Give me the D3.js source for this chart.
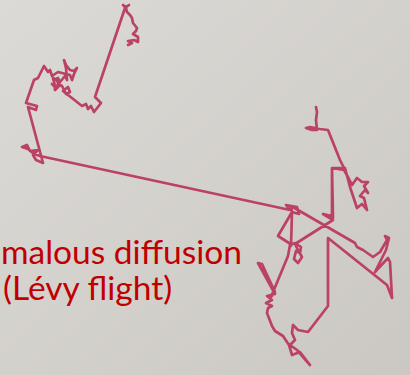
<!DOCTYPE html>
<html>
<head>
<meta charset="utf-8">
<script src="https://cdn.jsdelivr.net/npm/d3@7"></script>
<style>
  body { margin: 0; overflow: hidden; }
</style>
</head>
<body>
<div id="chart"></div>
<script>
// walk positions (x right, y down)
const walkLeftX = [128,132,128,134,138,138,133,136,137,133,132,130,127,126,123,126,129,125,
  95,101,94,91,88,86,82,63,68,70,66,62,58,56,52,55,53,57,59,55,54,58,60,65,67,66,64,66,70,74,77,74,72,70,62,58,52,50,48,44,42,38,34,
  26,37,36,28,43,36,33,38,30,27,22,28,34,40];
const walkLeftY = [45,43,41,40,42,37,34,31,28,23,18,15,12,8,5,7,5,8,
  97,103,112,106,109,104,106,91,87,92,94,86,84,88,84,86,78,80,86,90,80,78,82,76,80,68,60,65,70,71,68,74,80,75,73,72,76,70,72,66,70,78,80,
  103,106,110,107,163,160,155,150,151,145,147,149,154,156];

const walkRightX = [290,286,297,299,292,278,289,291,292,291,
  355,357,363,373,380,387,385,389,386,375,388,390,392,387,
  328,328,308,298,293,292,295,290,297,310,300,292,289,283,275,272,267,
  268,272,266,272,267,275,258,262,275,271,
  288,290,295,301,300,296,294,298,302,298,295,
  333,323,332,332,345,
  350,357,362,367,364,360,365,368,364,368,362,357,352,348,344,
  332,332,323,333,332,344,340,328,320,310,306,312,317,316,317,316];
const walkRightY = [210,205,207,214,212,236,243,246,212,206,
  243,247,250,257,252,240,236,238,250,272,258,262,298,285,
  238,306,332,330,325,333,340,345,350,365,352,355,345,336,331,326,313,
  308,306,303,300,296,294,263,264,292,297,
  256,245,243,247,253,251,259,263,257,250,244,
  220,214,216,168,168,
  187,208,204,210,198,196,190,193,186,182,182,178,185,177,170,
  168,216,214,218,168,168,160,130,129,127,128,130,130,120,112,107];

// the slide's label; the start of the first line is off the slide's left edge
const labelLines = ['malous diffusion', '(Lévy flight)'];

const width = 410;
const height = 375;

const xScale = d3.scaleLinear().domain([0, 410]).range([0, width]);
const yScale = d3.scaleLinear().domain([0, 375]).range([0, height]);

function toPoints(xs, ys) {
  return xs.map((x, i) => [x, ys[i]]);
}

function drawChart() {
  const svg = d3.select('#chart')
    .append('svg')
    .attr('width', width)
    .attr('height', height);

  // slide background, light grey with a soft fade
  const grad = svg.append('defs')
    .append('linearGradient')
    .attr('id', 'bg')
    .attr('x1', '0').attr('y1', '0')
    .attr('x2', '1').attr('y2', '1');
  grad.append('stop').attr('offset', '0%').attr('stop-color', '#dcdad6');
  grad.append('stop').attr('offset', '100%').attr('stop-color', '#cbc8c3');

  svg.append('rect')
    .attr('width', width)
    .attr('height', height)
    .attr('fill', 'url(#bg)');

  // the walk itself
  const points = toPoints(walkLeftX, walkLeftY).concat(toPoints(walkRightX, walkRightY));
  const line = d3.line()
    .x(d => xScale(d[0]))
    .y(d => yScale(d[1]));

  svg.append('path')
    .datum(points)
    .attr('d', line)
    .attr('fill', 'none')
    .attr('stroke', '#bb4262')
    .attr('stroke-width', 2.7)
    .attr('stroke-linejoin', 'round')
    .attr('stroke-linecap', 'round');

  const label = svg.append('g')
    .attr('font-family', 'Lato, "Open Sans", sans-serif')
    .attr('font-size', 33.5)
    .attr('fill', '#c00000');

  label.append('text')
    .attr('x', 1)
    .attr('y', 264)
    .text(labelLines[0]);

  label.append('text')
    .attr('x', 3)
    .attr('y', 300)
    .text(labelLines[1]);
}

drawChart();
</script>
</body>
</html>
